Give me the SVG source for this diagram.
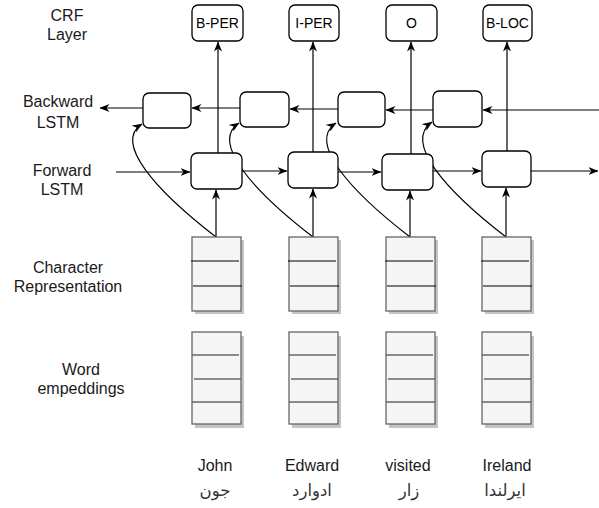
<svg xmlns="http://www.w3.org/2000/svg" width="599" height="508" viewBox="0 0 599 508">
<style>
.lbl{font-family:"Liberation Sans",Arial,sans-serif;font-size:16px;fill:#1a1a1a;text-anchor:middle}
.crf{font-family:"Liberation Sans",Arial,sans-serif;font-size:14px;fill:#000;text-anchor:middle}
.ar{font-family:"DejaVu Sans",sans-serif;font-size:16.5px;fill:#333;text-anchor:middle}
.box{fill:#fff;stroke:#000;stroke-width:1.3}
.cell{fill:#f5f5f5;stroke:#666;stroke-width:1.3}
.shadow{fill:#c4c4c4}
.cl{stroke:#000;stroke-width:1.2}
.wl{stroke:#666;stroke-width:1.6}
.edge{fill:none;stroke:#000;stroke-width:1.2;marker-end:url(#ah)}
</style>
<defs>
<marker id="ah" viewBox="0 0 10 8" refX="9.5" refY="4" markerWidth="10" markerHeight="8" markerUnits="userSpaceOnUse" orient="auto">
<path d="M0,0 L10,4 L0,8 L3,4 z" fill="#000"/>
</marker>
</defs>
<rect width="599" height="508" fill="#fff"/>

<!-- side labels -->
<g id="label-crf"><text class="lbl" x="67" y="21">CRF</text><text class="lbl" x="67" y="40">Layer</text></g>
<g id="label-backward"><text class="lbl" x="58" y="107">Backward</text><text class="lbl" x="58" y="128">LSTM</text></g>
<g id="label-forward"><text class="lbl" x="62" y="176">Forward</text><text class="lbl" x="62" y="195">LSTM</text></g>
<g id="label-char"><text class="lbl" x="68" y="273">Character</text><text class="lbl" x="68" y="292">Representation</text></g>
<g id="label-word"><text class="lbl" x="81" y="375">Word</text><text class="lbl" x="81" y="394">empeddings</text></g>

<!-- connectors -->
<g id="connectors">
<!-- char -> forward -->
<path class="edge" d="M216,237 L216,190"/>
<path class="edge" d="M313,237 L313,189"/>
<path class="edge" d="M410,237 L410,191"/>
<path class="edge" d="M506,237 L506,188"/>
<!-- char -> backward curves -->
<path class="edge" d="M216,237 C155,190 113,142 142,124"/>
<path class="edge" d="M313,237 C252,190 210,142 239,123"/>
<path class="edge" d="M410,237 C349,190 307,142 336,123"/>
<path class="edge" d="M506,237 C445,190 403,142 432,122"/>
<!-- forward -> crf -->
<path class="edge" d="M218,153 L218,42"/>
<path class="edge" d="M313,152 L313,42"/>
<path class="edge" d="M411,154 L411,42"/>
<path class="edge" d="M507,151 L507,42"/>
<!-- backward chain -->
<path class="edge" d="M599,110 L483,110"/>
<path class="edge" d="M433,110 L386,110"/>
<path class="edge" d="M338,109 L290,109"/>
<path class="edge" d="M240,108 L192,108"/>
<path class="edge" d="M143,108 L100,108"/>
<!-- forward chain -->
<path class="edge" d="M116,172 L190,172"/>
<path class="edge" d="M242,171 L287,171"/>
<path class="edge" d="M338,172 L381,172"/>
<path class="edge" d="M433,171 L481,171"/>
<path class="edge" d="M531,171 L598,171"/>
</g>

<!-- CRF nodes -->
<g id="crf1"><rect class="box" x="192" y="5" width="51" height="36" rx="6"/><text class="crf" x="217.5" y="28">B-PER</text></g>
<g id="crf2"><rect class="box" x="289" y="5" width="50" height="36" rx="6"/><text class="crf" x="314" y="28">I-PER</text></g>
<g id="crf3"><rect class="box" x="386" y="5" width="51" height="36" rx="6"/><text class="crf" x="411.5" y="28">O</text></g>
<g id="crf4"><rect class="box" x="483" y="5" width="49" height="36" rx="6"/><text class="crf" x="507.5" y="28">B-LOC</text></g>

<!-- Backward LSTM nodes -->
<g id="bwd1"><rect class="box" x="143" y="93" width="48" height="35" rx="6"/></g>
<g id="bwd2"><rect class="box" x="240" y="92" width="49" height="35" rx="6"/></g>
<g id="bwd3"><rect class="box" x="338" y="92" width="47" height="35" rx="6"/></g>
<g id="bwd4"><rect class="box" x="433" y="91" width="49" height="36" rx="6"/></g>

<!-- Forward LSTM nodes -->
<g id="fwd1"><rect class="box" x="191" y="153" width="51" height="36" rx="6"/></g>
<g id="fwd2"><rect class="box" x="288" y="152" width="50" height="36" rx="6"/></g>
<g id="fwd3"><rect class="box" x="382" y="154" width="51" height="36" rx="6"/></g>
<g id="fwd4"><rect class="box" x="482" y="151" width="49" height="36" rx="6"/></g>

<!-- Character representation nodes -->
<g id="char1"><rect class="shadow" x="195" y="240" width="49" height="74"/><rect class="cell" x="192" y="237" width="49" height="74"/><line class="cl" x1="191" y1="261" x2="239" y2="261"/><line class="cl" x1="193" y1="286" x2="242" y2="286"/></g>
<g id="char2"><rect class="shadow" x="292" y="240" width="49" height="74"/><rect class="cell" x="289" y="237" width="49" height="74"/><line class="cl" x1="288" y1="261" x2="336" y2="261"/><line class="cl" x1="290" y1="286" x2="339" y2="286"/></g>
<g id="char3"><rect class="shadow" x="389" y="240" width="49" height="74"/><rect class="cell" x="386" y="237" width="49" height="74"/><line class="cl" x1="385" y1="261" x2="433" y2="261"/><line class="cl" x1="387" y1="286" x2="436" y2="286"/></g>
<g id="char4"><rect class="shadow" x="485" y="240" width="49" height="74"/><rect class="cell" x="482" y="237" width="49" height="74"/><line class="cl" x1="481" y1="261" x2="529" y2="261"/><line class="cl" x1="483" y1="286" x2="532" y2="286"/></g>

<!-- Word embedding nodes -->
<g id="word1"><rect class="shadow" x="195" y="336" width="49" height="92"/><rect class="cell" x="192" y="332" width="49" height="92"/><line class="wl" x1="192" y1="355" x2="239" y2="355"/><line class="wl" x1="194" y1="379" x2="241" y2="379"/><line class="wl" x1="192" y1="402" x2="241" y2="402"/></g>
<g id="word2"><rect class="shadow" x="292" y="336" width="49" height="92"/><rect class="cell" x="289" y="332" width="49" height="92"/><line class="wl" x1="289" y1="355" x2="336" y2="355"/><line class="wl" x1="291" y1="379" x2="338" y2="379"/><line class="wl" x1="289" y1="402" x2="338" y2="402"/></g>
<g id="word3"><rect class="shadow" x="389" y="336" width="49" height="92"/><rect class="cell" x="386" y="332" width="49" height="92"/><line class="wl" x1="386" y1="355" x2="433" y2="355"/><line class="wl" x1="388" y1="379" x2="435" y2="379"/><line class="wl" x1="386" y1="402" x2="435" y2="402"/></g>
<g id="word4"><rect class="shadow" x="485" y="336" width="49" height="92"/><rect class="cell" x="482" y="332" width="49" height="92"/><line class="wl" x1="482" y1="355" x2="529" y2="355"/><line class="wl" x1="484" y1="379" x2="531" y2="379"/><line class="wl" x1="482" y1="402" x2="531" y2="402"/></g>

<!-- words -->
<g id="w-john"><text class="lbl" x="215" y="471">John</text><text class="ar" x="215" y="496">جون</text></g>
<g id="w-edward"><text class="lbl" x="312" y="471">Edward</text><text class="ar" x="312" y="496">ادوارد</text></g>
<g id="w-visited"><text class="lbl" x="408" y="471">visited</text><text class="ar" x="409" y="496">زار</text></g>
<g id="w-ireland"><text class="lbl" x="507" y="471">Ireland</text><text class="ar" x="505" y="496">ايرلندا</text></g>
</svg>
